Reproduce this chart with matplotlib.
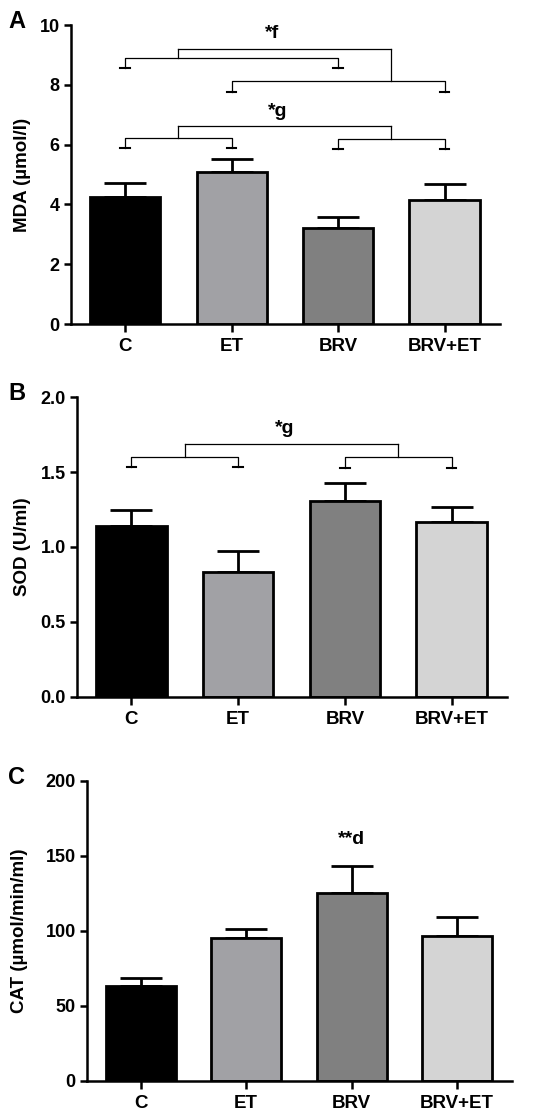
import numpy as np
import matplotlib
matplotlib.use("Agg")
import matplotlib.pyplot as plt

plt.rcParams['font.family'] = ['Liberation Sans', 'DejaVu Sans']
plt.rcParams['font.weight'] = 'bold'

groups = ['C', 'ET', 'BRV', 'BRV+ET']
colors = ['#000000', '#a1a1a5', '#808080', '#d4d4d4']

mda_mean = [4.24, 5.10, 3.22, 4.16]
mda_sem = [0.49, 0.42, 0.37, 0.51]
sod_mean = [1.14, 0.83, 1.31, 1.17]
sod_sem = [0.105, 0.14, 0.12, 0.095]
cat_mean = [62.9, 95.3, 124.9, 96.5]
cat_sem = [5.3, 5.8, 18.0, 12.8]

# brackets: (left group, right group, bar height, leg bottom, stem x), joint top
mda_f = [(0, 2, 8.90, 8.55, 0.5), (1, 3, 8.13, 7.77, 2.5)]
mda_f_top = 9.2
mda_g = [(0, 1, 6.23, 5.90, 0.5), (2, 3, 6.20, 5.85, 2.5)]
mda_g_top = 6.63
sod_g = [(0, 1, 1.603, 1.536, 0.5), (2, 3, 1.60, 1.53, 2.5)]
sod_g_top = 1.688

fig = plt.figure(figsize=(5.5, 11.17), dpi=100)


def panel(rect, mean, sem, ylim, yticks, yfmt, ylabel, letter, lab_x):
    ax = fig.add_axes(rect)
    x = np.arange(len(groups))
    ax.bar(x, mean, width=0.66, color=colors, edgecolor='black', linewidth=2.0, zorder=2)
    ax.errorbar(x, mean, yerr=[np.zeros(len(sem)), sem], fmt='none', ecolor='black',
                elinewidth=2.0, capsize=15, capthick=2.0, zorder=1)
    ax.set_xlim(-0.51, 3.52)
    ax.set_ylim(*ylim)
    ax.set_yticks(yticks)
    ax.set_yticklabels([yfmt.format(t) for t in yticks])
    ax.set_xticks(x)
    ax.set_xticklabels(groups)
    for s in ['top', 'right']:
        ax.spines[s].set_visible(False)
    for s in ['left', 'bottom']:
        ax.spines[s].set_linewidth(1.8)
    ax.tick_params(axis='y', length=5, width=1.8, labelsize=13, pad=3)
    ax.tick_params(axis='x', length=6, width=1.8, labelsize=13.5, pad=4)
    ax.set_ylabel(ylabel, fontsize=13.5, fontweight='bold', va='center')
    ax.yaxis.set_label_coords(lab_x, 0.5)
    fig.text(0.015, rect[1] + rect[3] + 0.003, letter, fontsize=17, fontweight='bold',
             va='center', ha='left')
    return ax


def bracket(ax, subs, top, label, lx, ly, cap):
    for i, j, yh, yl, sx in subs:
        ax.plot([i, i, j, j], [yl, yh, yh, yl], color='black', lw=0.9)
        for g in (i, j):
            ax.plot([g - cap, g + cap], [yl, yl], color='black', lw=1.5)
        ax.plot([sx, sx], [yh, top], color='black', lw=0.9)
    ax.plot([subs[0][4], subs[1][4]], [top, top], color='black', lw=0.9)
    ax.text(lx, ly, label, ha='center', va='center', fontsize=14, fontweight='bold')


ax1 = panel([0.129, 0.7099, 0.780, 0.2677], mda_mean, mda_sem, (0, 10),
            [0, 2, 4, 6, 8, 10], '{:g}', 'MDA (µmol/l)', 'A', -0.113)
bracket(ax1, mda_f, mda_f_top, '*f', 1.38, 9.7, 0.045)
bracket(ax1, mda_g, mda_g_top, '*g', 1.43, 7.1, 0.045)

ax2 = panel([0.140, 0.3763, 0.782, 0.2680], sod_mean, sod_sem, (0, 2.0),
            [0, 0.5, 1.0, 1.5, 2.0], '{:.1f}', 'SOD (U/ml)', 'B', -0.1256)
bracket(ax2, sod_g, sod_g_top, '*g', 1.44, 1.795, 0.045)

ax3 = panel([0.158, 0.0325, 0.773, 0.2686], cat_mean, cat_sem, (0, 200),
            [0, 50, 100, 150, 200], '{:g}', 'CAT (µmol/min/ml)', 'C', -0.158)
ax3.text(2, 160.5, '**d', ha='center', va='center', fontsize=14, fontweight='bold')

fig.savefig('out.png', dpi=100)
